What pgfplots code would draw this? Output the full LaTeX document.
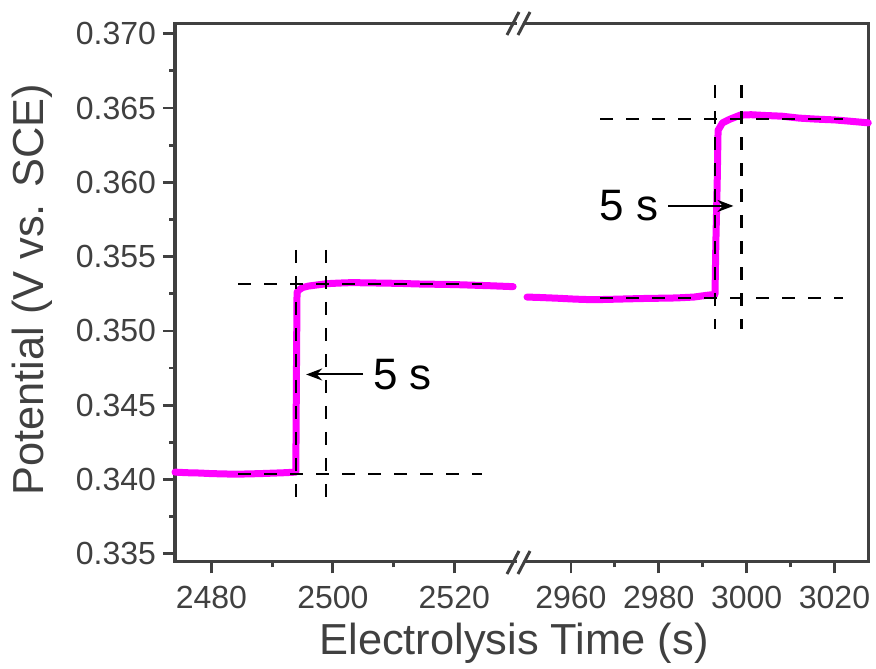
\documentclass[border=0pt]{standalone}
\usepackage{fontspec}
\setmainfont{Liberation Sans}
\usepackage{pgfplots}
\pgfplotsset{compat=1.18}
\usetikzlibrary{arrows.meta}
\definecolor{axgray}{RGB}{64,64,64}
\definecolor{trace}{RGB}{255,0,255}
\pgfplotsset{
  brk/.style={
    scale only axis, height=269pt, ymin=0.3345, ymax=0.3707,
    axis line style={-, axgray, line width=1.6pt, line cap=rect},
    tick style={axgray, line width=1.4pt},
    tick align=outside, major tick length=6pt, minor tick length=3pt,
    ticklabel style={font=\fontsize{16}{18}\selectfont, text=axgray},
    xticklabel style={yshift=-3pt},
    /pgf/number format/assume math mode=true,
    /pgf/number format/1000 sep={},
    scaled x ticks=false, scaled y ticks=false,
    clip=false, anchor=north west,
  },
  trc/.style={trace, line width=3.5pt, line join=round, line cap=round},
  dsh/.style={black, line width=1.2pt, dash pattern=on 6.5pt off 6.5pt},
}
\begin{document}
\begin{tikzpicture}
% ---------------- left panel ----------------
\begin{axis}[brk, at={(87.5pt,-11.65pt)}, width=170pt, xmin=2474, xmax=2530,
  axis x line*=bottom, axis y line*=left,
  xtick={2480,2500,2520}, minor xtick={2490,2510},
  ytick={0.335,0.340,0.345,0.350,0.355,0.360,0.365,0.370},
  minor ytick={0.3375,0.3425,0.3475,0.3525,0.3575,0.3625,0.3675},
  yticklabel style={/pgf/number format/.cd, fixed, fixed zerofill, precision=3},
]
\addplot[trc] coordinates {
 (2474,0.34050) (2476,0.34046) (2478,0.34044) (2480,0.34040) (2482,0.34038)
 (2484,0.34036) (2486,0.34038) (2488,0.34040) (2490,0.34043) (2492,0.34046)
 (2493.9,0.34050) (2494.0,0.3470) (2494.1,0.3526) (2494.4,0.35275)
 (2495,0.35292) (2496,0.35302) (2497.5,0.35310) (2499,0.35318) (2501,0.35322)
 (2503,0.35325) (2505,0.35324) (2508,0.35322) (2511,0.35320) (2514,0.35316)
 (2517,0.35314) (2520,0.35312) (2523,0.35308) (2526,0.35304) (2529.7,0.35298)
};
\addplot[dsh] coordinates {(2484.4,0.34039) (2524.6,0.34039)};
\addplot[dsh] coordinates {(2484.4,0.35316) (2524.6,0.35316)};
\addplot[dsh] coordinates {(2493.9,0.35546) (2493.9,0.33882)};
\addplot[dsh] coordinates {(2498.9,0.35546) (2498.9,0.33882)};
\draw[-{Stealth[length=8pt,width=6pt]}, black, line width=1pt] (axis cs:2505,0.34707) -- (axis cs:2495.6,0.34707);
\node[anchor=west, inner sep=0pt, font=\fontsize{22}{26}\selectfont] at (axis cs:2506.6,0.34707) {5 s};
\draw[axgray, line width=1.6pt, line cap=rect] (rel axis cs:0,1) -- (rel axis cs:1,1);
\end{axis}
% ---------------- right panel ----------------
\begin{axis}[brk, at={(263.5pt,-11.65pt)}, width=170.65pt, xmin=2950, xmax=3027.7,
  axis x line*=bottom, axis y line*=right, ytick=\empty,
  xtick={2960,2980,3000,3020}, minor xtick={2970,2990,3010},
]
\addplot[trc] coordinates {
 (2950,0.35228) (2953,0.35225) (2957,0.35220) (2961,0.35214) (2965,0.35210)
 (2968,0.35212) (2972,0.35215) (2976,0.35218) (2980,0.35220) (2984,0.35222)
 (2988,0.35228) (2991,0.35240) (2992.8,0.35246) (2993.0,0.3560) (2993.3,0.3600)
 (2993.5,0.3635) (2994.5,0.36400) (2996,0.36422) (2998.5,0.36452) (3001,0.36455)
 (3004,0.36450) (3008,0.36445) (3012,0.36432) (3016,0.36425) (3020,0.36420)
 (3024,0.36410) (3027.7,0.36400)
};
\addplot[dsh] coordinates {(2966.7,0.35222) (3022,0.35222)};
\addplot[dsh] coordinates {(2966.7,0.36425) (3022,0.36425)};
\addplot[dsh] coordinates {(2992.8,0.36653) (2992.8,0.35010)};
\addplot[dsh] coordinates {(2998.8,0.36653) (2998.8,0.35010)};
\draw[-{Stealth[length=8pt,width=6pt]}, black, line width=1pt] (axis cs:2982.1,0.35841) -- (axis cs:2997.0,0.35841);
\node[anchor=east, inner sep=0pt, font=\fontsize{22}{26}\selectfont] at (axis cs:2980.0,0.35841) {5 s};
\draw[axgray, line width=1.6pt, line cap=rect] (rel axis cs:0,1) -- (rel axis cs:1,1);
\end{axis}
% break marks
\draw[axgray, line width=1.5pt] (253.5pt,-287pt) -- (259.5pt,-275.5pt);
\draw[axgray, line width=1.5pt] (259pt,-287pt) -- (265pt,-275.5pt);
\draw[axgray, line width=1.5pt] (253.5pt,-17.5pt) -- (259.5pt,-6pt);
\draw[axgray, line width=1.5pt] (259pt,-17.5pt) -- (265pt,-6pt);
% axis labels
\node[rotate=90, anchor=base, text=axgray, font=\fontsize{21.7}{26}\selectfont] at (21.5pt,-145pt) {Potential (V vs. SCE)};
\node[anchor=base, text=axgray, font=\fontsize{21.7}{26}\selectfont] at (257pt,-327pt) {Electrolysis Time (s)};
\pgfresetboundingbox
\useasboundingbox (0,0) rectangle (438pt,-334pt);
\end{tikzpicture}
\end{document}
